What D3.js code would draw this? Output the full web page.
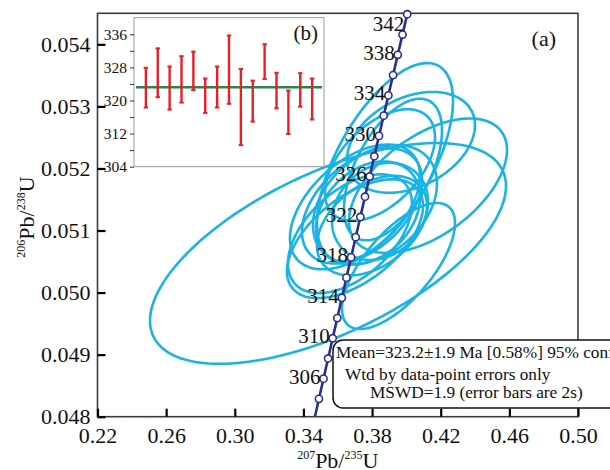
<!DOCTYPE html>
<html><head><meta charset="utf-8">
<script src="https://cdn.jsdelivr.net/npm/d3@7"></script>
<style>
html,body{margin:0;padding:0;background:#fff;}
svg{display:block;font-family:"Liberation Serif","Times New Roman",serif;}
</style></head><body>
<svg id="c" width="610" height="470"></svg>
<script>
// ---- data: ellipses (2-sigma half extents) ----
const x207   = [0.37413,0.39219,0.37005,0.41259,0.38462,0.37996,0.38170,0.38753,0.35432,0.37005,0.40268,0.37763,0.39540,0.38462,0.36714];
const err207 = [0.03496,0.02855,0.03788,0.04603,0.03205,0.03205,0.03613,0.03963,0.10372,0.03963,0.03729,0.03030,0.03292,0.02797,0.03613];
const y206   = [0.051396,0.051983,0.051380,0.051722,0.052055,0.051079,0.051420,0.052103,0.050631,0.050868,0.052421,0.051282,0.050428,0.051308,0.050948];
const err206 = [0.000928,0.001141,0.001005,0.001083,0.000899,0.000802,0.000957,0.001595,0.001779,0.000957,0.000812,0.000831,0.001015,0.000783,0.000957];
const rho    = [0.45,0.55,0.50,0.53,0.50,0.40,0.35,0.62,0.61,0.55,0.34,0.30,0.68,0.20,0.50];
// ---- inset (b): 206Pb/238U ages, Ma ----
const ages   = [323.1,326.7,323.0,325.1,327.15,321.15,323.25,327.45,318.4,319.85,329.4,322.4,317.15,322.55,320.35];
const ageErr = [4.8,5.9,5.2,5.6,4.65,4.15,4.95,8.25,9.2,4.95,4.2,4.3,5.25,4.05,4.95];
const meanAge = 323.2;
// ---- ticks ----
const xTicks = [0.22,0.26,0.30,0.34,0.38,0.42,0.46,0.50];
const yTicks = [0.048,0.049,0.050,0.051,0.052,0.053,0.054];
const insetTicks = [304,308,312,316,320,324,328,332,336];
const concordiaMarks = [304,306,308,310,312,314,316,318,320,322,324,326,328,330,332,334,336,338,340,342];
const concordiaLabels = [306,310,314,318,322,326,330,334,338,342];
const boxLines = ["Mean=323.2±1.9 Ma [0.58%] 95% conf.","Wtd by data-point errors only","MSWD=1.9 (error bars are 2s)"];
const L238 = 1.55125e-10, L235 = 9.8485e-10;

const svg = d3.select("#c");
const X0=97.5, X1=578, Y0=416.7, Y1=13.3;
const x = d3.scaleLinear().domain([0.22,0.50]).range([X0,X1]);
const y = d3.scaleLinear().domain([0.048,0.0545]).range([Y0,Y1]);

const cyan="#19b3e6", navy="#2b2e8c";

svg.append("defs").append("clipPath").attr("id","pc")
  .append("rect").attr("x",X0).attr("y",Y1).attr("width",X1-X0).attr("height",Y0-Y1);

const plot = svg.append("g").attr("clip-path","url(#pc)");
// ellipses
const line = d3.line().curve(d3.curveLinearClosed);
x207.forEach((cx,i)=>{
  const sx=err207[i], sy=err206[i], r=rho[i], q=Math.sqrt(1-r*r);
  const pts=d3.range(0,180).map(k=>{
    const t=k/180*2*Math.PI;
    return [x(cx+sx*Math.cos(t)), y(y206[i]+sy*(r*Math.cos(t)+q*Math.sin(t)))];
  });
  plot.append("path").attr("d",line(pts)).attr("fill","none")
    .attr("stroke",cyan).attr("stroke-width",2.6);
});
// concordia
const conc = t=>[Math.exp(L235*t*1e6)-1, Math.exp(L238*t*1e6)-1];
const cpts = d3.range(298,347,0.5).map(t=>{const c=conc(t);return [x(c[0]),y(c[1])];});
plot.append("path").attr("d",d3.line()(cpts)).attr("fill","none")
  .attr("stroke",navy).attr("stroke-width",2.6);

// frame
svg.append("rect").attr("x",X0).attr("y",Y1).attr("width",X1-X0).attr("height",Y0-Y1)
  .attr("fill","none").attr("stroke","#3c3c3c").attr("stroke-width",1.6);

// axes
const ax = svg.append("g").attr("transform",`translate(0,${Y0})`)
  .call(d3.axisBottom(x).tickValues(xTicks).tickFormat(d3.format(".2f")).tickSize(-8).tickPadding(11));
const ay = svg.append("g").attr("transform",`translate(${X0},0)`)
  .call(d3.axisLeft(y).tickValues(yTicks).tickFormat(d3.format(".3f")).tickSize(-8).tickPadding(7));
[ax,ay].forEach(g=>{
  g.select(".domain").remove();
  g.selectAll(".tick line").attr("stroke","#000").attr("stroke-width",2.2);
  g.selectAll(".tick text").attr("font-family","Liberation Serif").attr("font-size",22).attr("fill","#111");
});

// concordia markers
concordiaMarks.forEach(t=>{
  const c=conc(t);
  svg.append("circle").attr("cx",x(c[0])).attr("cy",y(c[1])).attr("r",3.6)
    .attr("fill","#fff").attr("stroke",navy).attr("stroke-width",1.6);
});
concordiaLabels.forEach(t=>{
  const c=conc(t), px=x(c[0]), py=y(c[1]);
  svg.append("text").attr("x",px-3).attr("y",Math.max(py+5,Y1+18))
    .attr("text-anchor","end").attr("font-size",21).attr("fill","#111").text(t);
});

// axis titles
const xt = svg.append("text").attr("x",(X0+X1)/2).attr("y",468).attr("text-anchor","middle").attr("fill","#111");
xt.append("tspan").attr("font-size",12).attr("dy",-9).text("207");
xt.append("tspan").attr("font-size",22).attr("dy",9).text("Pb/");
xt.append("tspan").attr("font-size",12).attr("dy",-9).text("235");
xt.append("tspan").attr("font-size",22).attr("dy",9).text("U");
const yt = svg.append("text").attr("transform","translate(34,217) rotate(-90)").attr("text-anchor","middle").attr("fill","#111");
yt.append("tspan").attr("font-size",12).attr("dy",-9).text("206");
yt.append("tspan").attr("font-size",22).attr("dy",9).text("Pb/");
yt.append("tspan").attr("font-size",12).attr("dy",-9).text("238");
yt.append("tspan").attr("font-size",22).attr("dy",9).text("U");

svg.append("text").attr("x",556).attr("y",46).attr("text-anchor","end").attr("font-size",22).attr("fill","#111").text("(a)");

// inset (b)
const IX0=134, IX1=324, IY0=166.7, IY1=17.7;
const xi = d3.scaleLinear().domain([0,16]).range([IX0,IX1]);
const yi = d3.scaleLinear().domain([304,340]).range([IY0,IY1]);
svg.append("rect").attr("x",IX0).attr("y",IY1).attr("width",IX1-IX0).attr("height",IY0-IY1)
  .attr("fill","#fff").attr("stroke","#9a9a9a").attr("stroke-width",1);
const ai = svg.append("g").attr("transform",`translate(${IX0},0)`)
  .call(d3.axisLeft(yi).tickValues(insetTicks).tickFormat(d=>d%8===0?d:"").tickSize(4).tickPadding(3));
ai.select(".domain").remove();
ai.selectAll(".tick line").attr("stroke","#333").attr("stroke-width",1);
ai.selectAll(".tick text").attr("font-family","Liberation Serif").attr("font-size",15.5).attr("fill","#111");

svg.append("line").attr("x1",IX0+2).attr("x2",IX1-2).attr("y1",yi(meanAge)).attr("y2",yi(meanAge))
  .attr("stroke","#23894e").attr("stroke-width",2.6);
ages.forEach((a,i)=>{
  const cx=xi(i+1), t=yi(a+ageErr[i]), b=yi(a-ageErr[i]);
  const g=svg.append("g").attr("stroke","#ee1c25");
  g.append("line").attr("x1",cx).attr("x2",cx).attr("y1",t).attr("y2",b).attr("stroke-width",2.4);
  g.append("line").attr("x1",cx-2.2).attr("x2",cx+2.2).attr("y1",t).attr("y2",t).attr("stroke-width",2);
  g.append("line").attr("x1",cx-2.2).attr("x2",cx+2.2).attr("y1",b).attr("y2",b).attr("stroke-width",2);
});
svg.append("text").attr("x",318).attr("y",40).attr("text-anchor","end").attr("font-size",21).attr("fill","#111").text("(b)");

// results box
svg.append("rect").attr("x",333).attr("y",340).attr("width",320).attr("height",68).attr("rx",10)
  .attr("fill","#fff").attr("stroke","#111").attr("stroke-width",1.5);
const bx=[336,345,370], by=[358,380,398];
boxLines.forEach((s,i)=>{
  svg.append("text").attr("x",bx[i]).attr("y",by[i]).attr("font-size",17.3).attr("fill","#111").text(s);
});
</script></body></html>
